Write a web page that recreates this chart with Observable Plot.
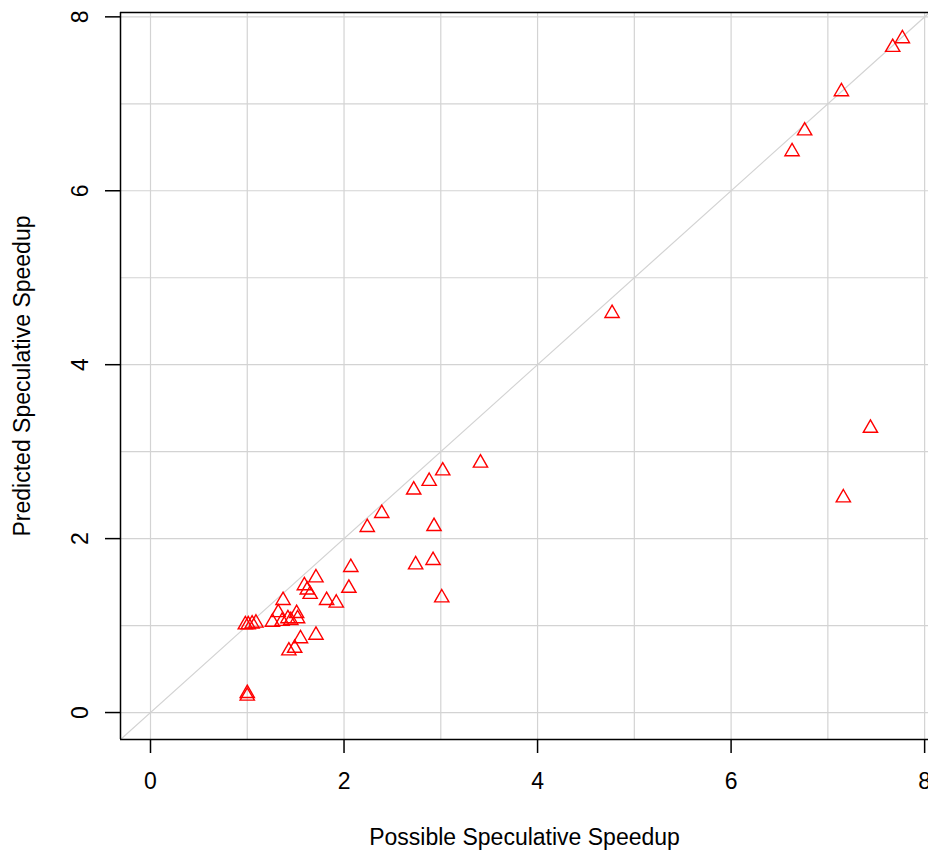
<!DOCTYPE html>
<html>
<head>
<meta charset="utf-8">
<script src="https://cdn.jsdelivr.net/npm/d3@7"></script>
<script src="https://cdn.jsdelivr.net/npm/@observablehq/plot@0.6"></script>
<style>
  html, body { margin: 0; padding: 0; background: white; overflow: hidden; }
</style>
</head>
<body>
<div id="chart"></div>
<script>
const possible = [7.77, 7.67, 7.14, 6.76, 6.63, 4.77, 7.44, 7.16, 3.41, 3.02, 2.88, 2.72, 2.39, 2.24, 2.93, 2.07, 2.92, 2.74, 2.05, 3.01, 1.71, 1.59, 1.62, 1.65, 1.82, 1.92, 1.37, 1.51, 1.52, 1.32, 1.42, 1.45, 1.36, 1.26, 1.09, 1.05, 1.01, 0.98, 1.71, 1.55, 1.49, 1.43, 1.00, 1.00];
const predicted = [7.75, 7.65, 7.14, 6.69, 6.45, 4.59, 3.27, 2.47, 2.87, 2.78, 2.66, 2.56, 2.29, 2.13, 2.14, 1.67, 1.75, 1.70, 1.43, 1.32, 1.55, 1.46, 1.41, 1.36, 1.29, 1.26, 1.29, 1.14, 1.08, 1.15, 1.08, 1.06, 1.05, 1.04, 1.03, 1.02, 1.01, 1.01, 0.89, 0.85, 0.74, 0.71, 0.22, 0.19];
const xTicks = [0, 2, 4, 6, 8];
const yTicks = [0, 2, 4, 6, 8];
const gridTicks = [0, 1, 2, 3, 4, 5, 6, 7, 8];
const xTitle = "Possible Speculative Speedup";
const yTitle = "Predicted Speculative Speedup";

const data = possible.map((x, i) => ({x, y: predicted[i]}));
const xDom = [-0.31, 8.04];
const yDom = [-0.31, 8.05];
const diag = [[yDom[0], yDom[0]], [yDom[1], yDom[1]]];
const font = "'Liberation Sans', Arial, Helvetica, sans-serif";
const fs = 23;

const chart = Plot.plot({
  width: 928,
  height: 852,
  marginLeft: 120,
  marginRight: 0,
  marginTop: 12,
  marginBottom: 113,
  x: {domain: xDom},
  y: {domain: yDom},
  style: {fontFamily: font, fontSize: fs + "px", background: "white", color: "black", overflow: "hidden"},
  marks: [
    Plot.gridX(gridTicks, {stroke: "#d3d3d3", strokeOpacity: 1, strokeWidth: 1.2}),
    Plot.gridY(gridTicks, {stroke: "#d3d3d3", strokeOpacity: 1, strokeWidth: 1.2}),
    Plot.line(diag, {x: d => d[0], y: d => d[1], stroke: "#d3d3d3", strokeWidth: 1.2, clip: true}),
    Plot.dot(data, {x: "x", y: "y", symbol: "triangle", stroke: "red", fill: "none", r: 5.3, strokeWidth: 1.4}),
    Plot.ruleX([xDom[0]], {stroke: "black", strokeWidth: 1.5}),
    Plot.ruleY([yDom[0]], {stroke: "black", strokeWidth: 1.5}),
    Plot.ruleY([yDom[1]], {stroke: "black", strokeWidth: 1.5}),
    Plot.axisX(xTicks, {tickSize: 14, tickPadding: 19, fontSize: fs, strokeWidth: 1.5, label: null, tickFormat: d => String(d)}),
    Plot.axisY(yTicks, {tickSize: 15, tickFormat: () => "", label: null, strokeWidth: 1.5}),
    Plot.text(yTicks, {y: d => d, frameAnchor: "left", textAnchor: "middle", lineAnchor: "middle", dx: -40, rotate: -90, text: d => String(d), fontSize: fs, fill: "black"}),
    Plot.text([xTitle], {frameAnchor: "bottom", textAnchor: "middle", dy: 105, text: d => d, fontSize: fs, fill: "black"}),
    Plot.text([yTitle], {frameAnchor: "left", textAnchor: "middle", lineAnchor: "middle", dx: -98, rotate: -90, text: d => d, fontSize: fs, fill: "black"})
  ]
});
document.getElementById("chart").appendChild(chart);
</script>
</body>
</html>
